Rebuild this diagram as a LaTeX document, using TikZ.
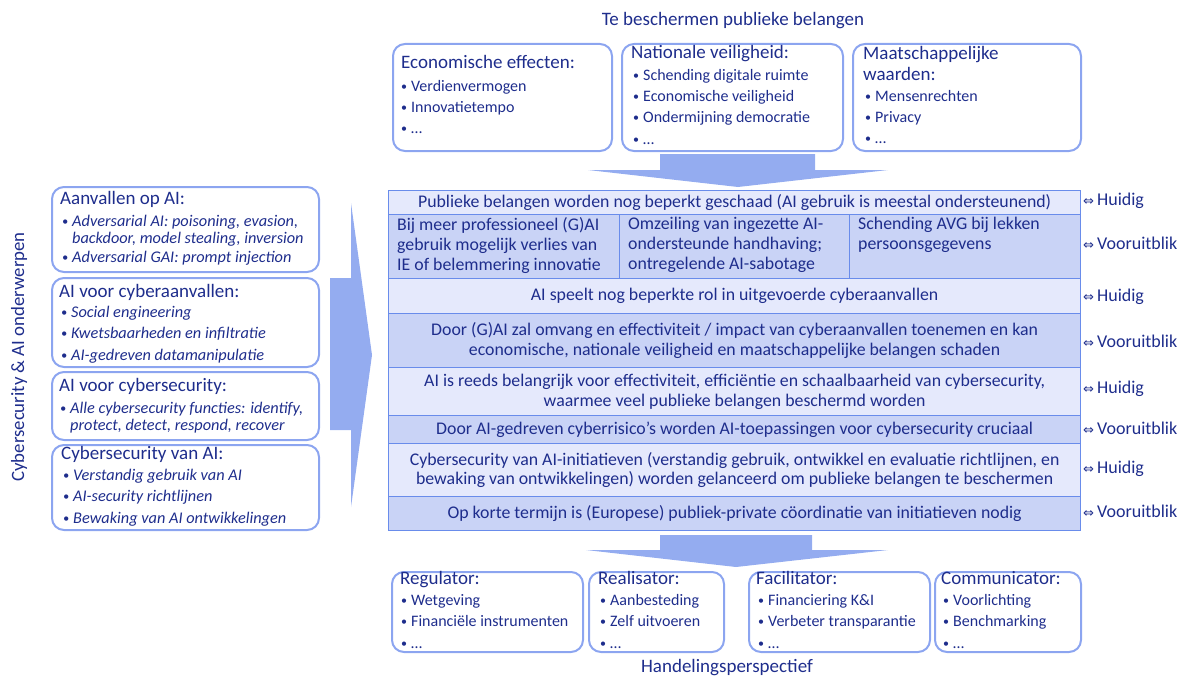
\documentclass[tikz,border=0pt]{standalone}
\usepackage{fontspec}
\setmainfont{Carlito}
\newfontfamily\symfont{DejaVu Sans}
\definecolor{navy}{RGB}{30,45,140}
\definecolor{bxline}{RGB}{140,165,240}
\definecolor{tbline}{RGB}{105,140,235}
\definecolor{rowA}{RGB}{229,233,252}
\definecolor{rowB}{RGB}{201,211,246}
\definecolor{arw}{RGB}{148,172,240}
\newcommand\bul{\makebox[10pt][l]{\raisebox{.05em}{\scalebox{.75}{\textbullet}}}}
\newcommand\dar{{\symfont\fontsize{13}{14}\selectfont ⇔}\hspace{3pt}}
\begin{document}
\begin{tikzpicture}[x=1pt,y=-1pt,
  rbox/.style={draw=bxline, line width=2pt, rounded corners=12pt, anchor=north west, inner sep=0pt},
  ln/.style={anchor=west, inner sep=0pt, text height=.95em, text depth=0pt, text=navy},
  ttl/.style={ln, font=\fontsize{19}{21}\selectfont},
  itm/.style={ln, font=\fontsize{16}{18}\selectfont},
  iti/.style={ln, font=\fontsize{16.3}{18}\selectfont\itshape},
  head/.style={inner sep=0pt, text=navy, font=\fontsize{19}{21}\selectfont},
  rowbase/.style={draw=tbline, line width=1.2pt, inner sep=0pt, text=navy, align=center, font=\fontsize{17.8}{19.5}\selectfont, minimum width=692pt},
  rowL/.style={rowbase, fill=rowA},
  rowD/.style={rowbase, fill=rowB},
  cell/.style={draw=tbline, line width=1.2pt, fill=rowB, anchor=north west, inner sep=0pt, minimum height=64pt},
  celltxt/.style={anchor=north west, inner sep=0pt, align=left, text=navy, font=\fontsize{17.8}{20}\selectfont},
  side/.style={ln, font=\fontsize{18}{20}\selectfont},
  bigarrow/.style={fill=arw, draw=none}
]
\useasboundingbox (0,0) rectangle (1182,677);

% ---------- top ----------
\node[head] (toptitle) at (733,21) {Te beschermen publieke belangen};

\node[rbox, minimum width=219pt, minimum height=107pt] (eco) at (392,43) {};
\node[ttl] (ecoT) at (401,64) {Economische effecten:};
\node[itm] (eco1) at (401,87) {\bul Verdienvermogen};
\node[itm] (eco2) at (401,108) {\bul Innovatietempo};
\node[itm] (eco3) at (401,129) {\bul …};

\node[rbox, minimum width=221pt, minimum height=107pt] (nat) at (621,43) {};
\node[ttl] (natT) at (631,54) {Nationale veiligheid:};
\node[itm] (nat1) at (633,76) {\bul Schending digitale ruimte};
\node[itm] (nat2) at (633,97) {\bul Economische veiligheid};
\node[itm] (nat3) at (633,118) {\bul Ondermijning democratie};
\node[itm] (nat4) at (633,140) {\bul …};

\node[rbox, minimum width=228pt, minimum height=107pt] (maa) at (852,43) {};
\node[ttl] (maaT) at (863,55) {Maatschappelijke};
\node[ttl] (maaT2) at (863,76) {waarden:};
\node[itm] (maa1) at (865,97) {\bul Mensenrechten};
\node[itm] (maa2) at (865,118) {\bul Privacy};
\node[itm] (maa3) at (865,139) {\bul …};

\fill[bigarrow] (660,154) -- (815,154) -- (815,170) -- (888,170) -- (738,187) -- (588,170) -- (660,170) -- cycle;

% ---------- left ----------
\node[head, rotate=90, font=\fontsize{18.8}{21}\selectfont] (lefttitle) at (19,357) {Cybersecurity \& AI onderwerpen};

\node[rbox, minimum width=267pt, minimum height=85pt] (l1) at (51,186) {};
\node[ttl] (l1T) at (60,200) {Aanvallen op AI:};
\node[iti] (l11) at (62,222) {\bul Adversarial AI: poisoning, evasion,};
\node[iti] (l12) at (72,239) {backdoor, model stealing, inversion};
\node[iti] (l13) at (62,258) {\bul Adversarial GAI: prompt injection};

\node[rbox, minimum width=267pt, minimum height=89pt] (l2) at (51,277) {};
\node[ttl] (l2T) at (59,293) {AI voor cyberaanvallen:};
\node[iti] (l21) at (61,313) {\bul Social engineering};
\node[iti] (l22) at (61,334) {\bul Kwetsbaarheden en infiltratie};
\node[iti] (l23) at (61,356) {\bul AI-gedreven datamanipulatie};

\node[rbox, minimum width=267pt, minimum height=68pt] (l3) at (51,371) {};
\node[ttl] (l3T) at (59,387) {AI voor cybersecurity:};
\node[iti] (l31) at (60,409) {\bul Alle cybersecurity functies: identify,};
\node[iti] (l32) at (70,426) {protect, detect, respond, recover};

\node[rbox, minimum width=267pt, minimum height=85pt] (l4) at (51,444) {};
\node[ttl] (l4T) at (61,455) {Cybersecurity van AI:};
\node[iti] (l41) at (63,476) {\bul Verstandig gebruik van AI};
\node[iti] (l42) at (63,497) {\bul AI-security richtlijnen};
\node[iti] (l43) at (63,519) {\bul Bewaking van AI ontwikkelingen};

\fill[bigarrow] (330,278) -- (351,278) -- (351,203) -- (372,355) -- (351,507) -- (351,430) -- (330,430) -- cycle;

% ---------- table ----------
\node[rowL, minimum height=24pt, anchor=north west] (r1) at (388,190) {Publieke belangen worden nog beperkt geschaad (AI gebruik is meestal ondersteunend)};
\node[cell, minimum width=231pt] (c1) at (388,214) {};
\node[cell, minimum width=230pt] (c2) at (619,214) {};
\node[cell, minimum width=231pt] (c3) at (849,214) {};
\node[celltxt] (c1t) at (397,217) {Bij meer professioneel (G)AI\\gebruik mogelijk verlies van\\IE of belemmering innovatie};
\node[celltxt] (c2t) at (628,217) {Omzeiling van ingezette AI-\\ondersteunde handhaving;\\ontregelende AI-sabotage};
\node[celltxt] (c3t) at (858,217) {Schending AVG bij lekken\\persoonsgegevens};
\node[rowL, minimum height=35pt, anchor=north west] (r3) at (388,278) {AI speelt nog beperkte rol in uitgevoerde cyberaanvallen};
\node[rowD, minimum height=54pt, anchor=north west] (r4) at (388,313) {Door (G)AI zal omvang en effectiviteit / impact van cyberaanvallen toenemen en kan\\economische, nationale veiligheid en maatschappelijke belangen schaden};
\node[rowL, minimum height=48pt, anchor=north west] (r5) at (388,367) {AI is reeds belangrijk voor effectiviteit, efficiëntie en schaalbaarheid van cybersecurity,\\waarmee veel publieke belangen beschermd worden};
\node[rowD, minimum height=28pt, anchor=north west] (r6) at (388,415) {Door AI-gedreven cyberrisico’s worden AI-toepassingen voor cybersecurity cruciaal};
\node[rowL, minimum height=53pt, anchor=north west] (r7) at (388,443) {Cybersecurity van AI-initiatieven (verstandig gebruik, ontwikkel en evaluatie richtlijnen, en\\bewaking van ontwikkelingen) worden gelanceerd om publieke belangen te beschermen};
\node[rowD, minimum height=34pt, anchor=north west] (r8) at (388,496) {Op korte termijn is (Europese) publiek-private cöordinatie van initiatieven nodig};

\node[side] (s1) at (1083,201) {\dar Huidig};
\node[side] (s2) at (1083,245) {\dar Vooruitblik};
\node[side] (s3) at (1083,297) {\dar Huidig};
\node[side] (s4) at (1083,343) {\dar Vooruitblik};
\node[side] (s5) at (1083,389) {\dar Huidig};
\node[side] (s6) at (1083,430) {\dar Vooruitblik};
\node[side] (s7) at (1083,469) {\dar Huidig};
\node[side] (s8) at (1083,513) {\dar Vooruitblik};

\fill[bigarrow] (660,535) -- (812,535) -- (812,550) -- (888,550) -- (736,567) -- (586,550) -- (660,550) -- cycle;

% ---------- bottom ----------
\node[rbox, minimum width=191pt, minimum height=80pt] (reg) at (391,571) {};
\node[ttl] (regT) at (400,580) {Regulator:};
\node[itm] (reg1) at (401,601) {\bul Wetgeving};
\node[itm] (reg2) at (401,622) {\bul Financiële instrumenten};
\node[itm] (reg3) at (401,644) {\bul …};

\node[rbox, minimum width=135pt, minimum height=80pt] (rea) at (588,571) {};
\node[ttl] (reaT) at (598,580) {Realisator:};
\node[itm] (rea1) at (600,601) {\bul Aanbesteding};
\node[itm] (rea2) at (600,622) {\bul Zelf uitvoeren};
\node[itm] (rea3) at (600,644) {\bul …};

\node[rbox, minimum width=181pt, minimum height=80pt] (fac) at (748,571) {};
\node[ttl] (facT) at (756,580) {Facilitator:};
\node[itm] (fac1) at (758,601) {\bul Financiering K\&I};
\node[itm] (fac2) at (758,622) {\bul Verbeter transparantie};
\node[itm] (fac3) at (758,644) {\bul …};

\node[rbox, minimum width=146pt, minimum height=80pt] (com) at (934,571) {};
\node[ttl] (comT) at (941,580) {Communicator:};
\node[itm] (com1) at (943,601) {\bul Voorlichting};
\node[itm] (com2) at (943,622) {\bul Benchmarking};
\node[itm] (com3) at (943,644) {\bul …};

\node[head] (bottitle) at (727,668) {Handelingsperspectief};
\end{tikzpicture}
\end{document}
